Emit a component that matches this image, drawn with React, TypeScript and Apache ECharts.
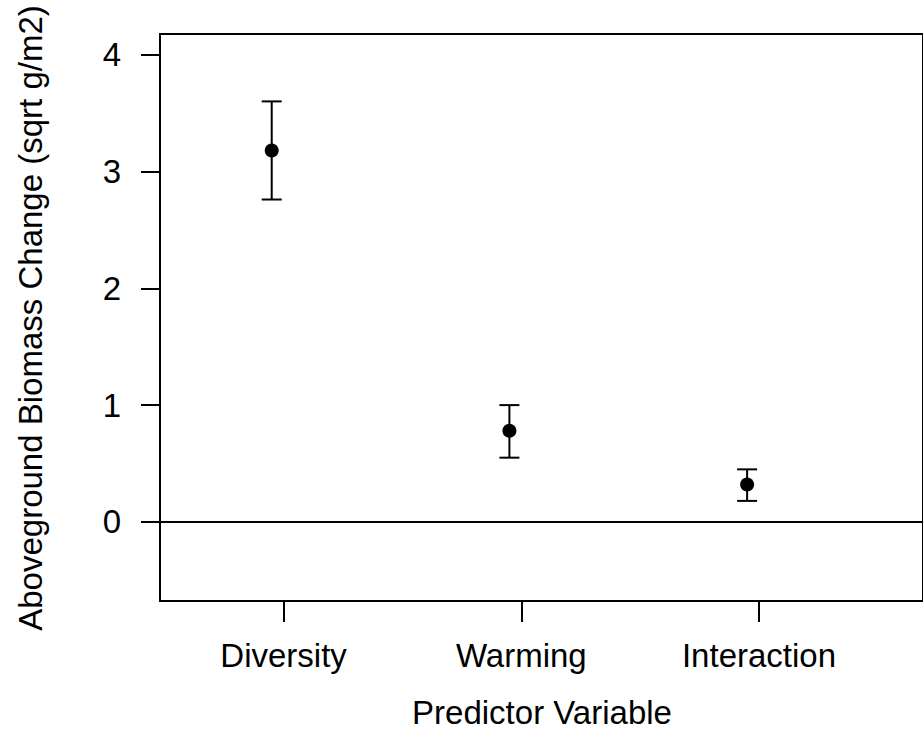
import React, { useEffect, useRef } from "react";
import * as echarts from "echarts";

const categories = ["Diversity", "Warming", "Interaction"];
const estimates = [3.18, 0.78, 0.32];
const upper = [3.6, 1.0, 0.45];
const lower = [2.76, 0.55, 0.18];
const yTicks = [0, 1, 2, 3, 4];
const xTicks = [1, 2, 3];
const pointDodge = -0.05;

const FONT = "Liberation Sans, Arial, Helvetica, sans-serif";
const FS = 33;

export default function App() {
  const ref = useRef<HTMLDivElement>(null);
  useEffect(() => {
    if (!ref.current) return;
    const chart = echarts.init(ref.current, null, { renderer: "svg" });
    const pts = categories.map((_, i) => [xTicks[i] + pointDodge, estimates[i]]);
    const bars = categories.map((_, i) => [xTicks[i] + pointDodge, lower[i], upper[i]]);
    chart.setOption({
      animation: false,
      backgroundColor: "#fff",
      grid: {
        left: 160,
        top: 34,
        width: 764,
        height: 567,
        show: true,
        borderColor: "#000",
        borderWidth: 2,
        backgroundColor: "transparent",
      },
      xAxis: {
        type: "value",
        min: 0.48,
        max: 3.69,
        splitLine: { show: false },
        axisLine: { show: false, onZero: false },
        axisTick: {
          show: true,
          inside: false,
          length: 21,
          customValues: xTicks,
          lineStyle: { color: "#000", width: 2 },
        },
        axisLabel: {
          customValues: xTicks,
          margin: 38,
          color: "#000",
          fontFamily: FONT,
          fontSize: FS,
          formatter: (v: number) => categories[Math.round(v) - 1] ?? "",
        },
      },
      yAxis: {
        type: "value",
        min: -0.677,
        max: 4.177,
        splitLine: { show: false },
        axisLine: { show: false, onZero: false },
        axisTick: {
          show: true,
          inside: false,
          length: 19,
          customValues: yTicks,
          lineStyle: { color: "#000", width: 2 },
        },
        axisLabel: {
          customValues: yTicks,
          margin: 39,
          color: "#000",
          fontFamily: FONT,
          fontSize: FS,
        },
      },
      graphic: [
        {
          type: "text",
          x: 30,
          y: 318,
          rotation: Math.PI / 2,
          style: {
            text: "Aboveground Biomass Change (sqrt g/m2)",
            font: `${FS}px ${FONT}`,
            fill: "#000",
            align: "center",
            verticalAlign: "middle",
          },
        },
        {
          type: "text",
          x: 542,
          y: 712,
          style: {
            text: "Predictor Variable",
            font: `${FS}px ${FONT}`,
            fill: "#000",
            align: "center",
            verticalAlign: "middle",
          },
        },
      ],
      series: [
        {
          type: "custom",
          data: bars,
          renderItem: (params: any, api: any) => {
            const x = api.value(0);
            const lo = api.coord([x, api.value(1)]);
            const hi = api.coord([x, api.value(2)]);
            const hw = 10;
            const style = { stroke: "#000", lineWidth: 2 };
            return {
              type: "group",
              children: [
                { type: "line", shape: { x1: lo[0], y1: lo[1], x2: hi[0], y2: hi[1] }, style },
                { type: "line", shape: { x1: hi[0] - hw, y1: hi[1], x2: hi[0] + hw, y2: hi[1] }, style },
                { type: "line", shape: { x1: lo[0] - hw, y1: lo[1], x2: lo[0] + hw, y2: lo[1] }, style },
              ],
            };
          },
          z: 2,
        },
        {
          type: "scatter",
          data: pts,
          symbol: "circle",
          symbolSize: 14,
          itemStyle: { color: "#000", opacity: 1 },
          z: 3,
          markLine: {
            silent: true,
            symbol: "none",
            label: { show: false },
            lineStyle: { color: "#000", width: 2, type: "solid" },
            data: [{ yAxis: 0 }],
          },
        },
      ],
    });
    return () => chart.dispose();
  }, []);
  return (
    <div
      ref={ref}
      style={{ position: "fixed", left: 0, top: 0, width: 923, height: 750, background: "#fff" }}
    />
  );
}
